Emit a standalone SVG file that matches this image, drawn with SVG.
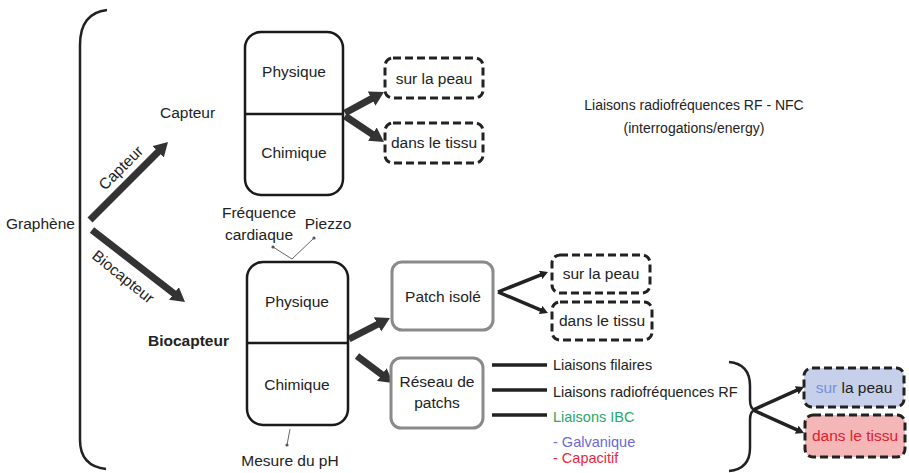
<svg xmlns="http://www.w3.org/2000/svg" width="909" height="473" viewBox="0 0 909 473">
<style>
text{font-family:"Liberation Sans",Arial,sans-serif;font-size:15.5px;fill:#222}
.c{text-anchor:middle}
.sm{font-size:14.5px}
.tr{font-size:14px}
.brace{fill:none;stroke:#222;stroke-width:2.5}
.box{fill:#fff;stroke:#1a1a1a;stroke-width:2.5}
.gbox{fill:#fff;stroke:#8a8a8a;stroke-width:3}
.dash{fill:#fff;stroke:#222;stroke-width:3;stroke-dasharray:8 4}
.thick{stroke:#333;stroke-width:7;fill:none}
.thin{stroke:#222;stroke-width:3.5;fill:none}
.hair{stroke:#666;stroke-width:1;fill:none}
</style>
<defs>
<marker id="big" markerUnits="userSpaceOnUse" markerWidth="14" markerHeight="16" refX="2" refY="8" orient="auto"><path d="M0,0 L14,8 L0,16 z" fill="#333"/></marker>
<marker id="small" markerUnits="userSpaceOnUse" markerWidth="8" markerHeight="9" refX="1" refY="4.5" orient="auto"><path d="M0,0 L8,4.5 L0,9 z" fill="#222"/></marker>
</defs>
<rect width="909" height="473" fill="#fff"/>

<g id="braces">
<path class="brace" d="M107,10 Q80,13 80,45 L80,440 Q80,466 106,469"/>
<path class="brace" d="M729,362 Q750,364 750,386 L750,400 Q750,409 755,410 Q750,411 750,420 L750,448 Q750,469 729,471"/>
</g>

<g id="connectors">
<line class="thick" x1="90" y1="220" x2="159.5" y2="150.5" marker-end="url(#big)"/>
<line class="thick" x1="92" y1="230" x2="175.5" y2="294.7" marker-end="url(#big)"/>
<line class="thick" x1="345" y1="113" x2="373.4" y2="97.7" marker-end="url(#big)"/>
<line class="thick" x1="345" y1="116" x2="374" y2="135.3" marker-end="url(#big)"/>
<line class="thick" x1="349" y1="339" x2="379.3" y2="323.5" marker-end="url(#big)"/>
<line class="thick" x1="357" y1="356" x2="383.4" y2="375.8" marker-end="url(#big)"/>
<line class="thin" x1="498" y1="292" x2="541.5" y2="274.6" marker-end="url(#small)"/>
<line class="thin" x1="498" y1="292" x2="541.5" y2="310.3" marker-end="url(#small)"/>
<line class="thin" x1="492" y1="365" x2="547" y2="365"/>
<line class="thin" x1="492" y1="390" x2="547" y2="390"/>
<line class="thin" x1="492" y1="415" x2="547" y2="415"/>
<line class="thin" x1="753" y1="410" x2="797.6" y2="389.8" marker-end="url(#small)"/>
<line class="thin" x1="753" y1="410" x2="797.6" y2="430.2" marker-end="url(#small)"/>
<path class="hair" d="M273,247 L292,259 L314,238"/>
<circle cx="273" cy="247" r="1.6" fill="#555"/>
<circle cx="314" cy="238" r="1.6" fill="#555"/>
<path class="hair" d="M290,429 L287,445"/>
<circle cx="287" cy="445" r="1.6" fill="#555"/>
</g>

<g id="labels">
<text x="6" y="229">Graphène</text>
<text class="c" transform="translate(121,168) rotate(-45)" y="5">Capteur</text>
<text class="c" transform="translate(123,277) rotate(39)" y="5">Biocapteur</text>
<text x="160" y="118">Capteur</text>
<text x="148" y="346" font-weight="bold">Biocapteur</text>
<text class="c" x="259" y="218">Fréquence</text>
<text class="c" x="259" y="240">cardiaque</text>
<text class="c" x="328" y="229">Piezzo</text>
<text class="c" x="290" y="466">Mesure du pH</text>
<text class="c tr" x="694" y="110">Liaisons radiofréquences RF - NFC</text>
<text class="c tr" x="694" y="133">(interrogations/energy)</text>
</g>

<g id="capteur-box">
<rect class="box" x="245" y="32" width="98" height="163" rx="16"/>
<line x1="245" y1="114" x2="343" y2="114" stroke="#1a1a1a" stroke-width="2.5"/>
<text class="c" x="294" y="77">Physique</text>
<text class="c" x="294" y="158">Chimique</text>
</g>

<g id="top-sur-la-peau">
<rect class="dash" x="385" y="58" width="98" height="40" rx="8"/>
<text class="c" x="434" y="84">sur la peau</text>
</g>
<g id="top-dans-le-tissu">
<rect class="dash" x="385" y="123" width="98" height="40" rx="8"/>
<text class="c" x="434" y="148">dans le tissu</text>
</g>

<g id="biocapteur-box">
<rect class="box" x="247" y="262" width="101" height="163" rx="16"/>
<line x1="247" y1="343" x2="348" y2="343" stroke="#1a1a1a" stroke-width="2.5"/>
<text class="c" x="297" y="307">Physique</text>
<text class="c" x="297" y="390">Chimique</text>
</g>

<g id="patch-isole">
<rect class="gbox" x="392" y="262" width="101" height="68" rx="10"/>
<text class="c" x="443" y="302">Patch isolé</text>
</g>
<g id="reseau-patchs">
<rect class="gbox" x="391" y="358" width="92" height="70" rx="10"/>
<text class="c" x="437" y="387">Réseau de</text>
<text class="c" x="437" y="408">patchs</text>
</g>

<g id="mid-sur-la-peau">
<rect class="dash" x="552" y="255" width="98" height="38" rx="8"/>
<text class="c" x="601" y="279">sur la peau</text>
</g>
<g id="mid-dans-le-tissu">
<rect class="dash" x="552" y="302" width="100" height="38" rx="8"/>
<text class="c" x="602" y="326">dans le tissu</text>
</g>

<g id="liaisons">
<text class="sm" x="553" y="370">Liaisons filaires</text>
<text class="sm" x="553" y="397">Liaisons radiofréquences RF</text>
<text class="sm" x="553" y="422" style="fill:#2aa86a">Liaisons IBC</text>
<text class="sm" x="553" y="447" style="fill:#6a6ad8">- Galvanique</text>
<text class="sm" x="553" y="463" style="fill:#e8283c">- Capacitif</text>
</g>

<g id="right-sur-la-peau">
<rect class="dash" x="804" y="368" width="100" height="39" rx="8" style="fill:#c6d0ea"/>
<text class="c" x="854" y="393"><tspan style="fill:#7b8fd6">sur</tspan> la peau</text>
</g>
<g id="right-dans-le-tissu">
<rect class="dash" x="805" y="415" width="100" height="42" rx="8" style="fill:#f4b6b6"/>
<text class="c" x="855" y="441" style="fill:#e02030">dans le tissu</text>
</g>
</svg>
